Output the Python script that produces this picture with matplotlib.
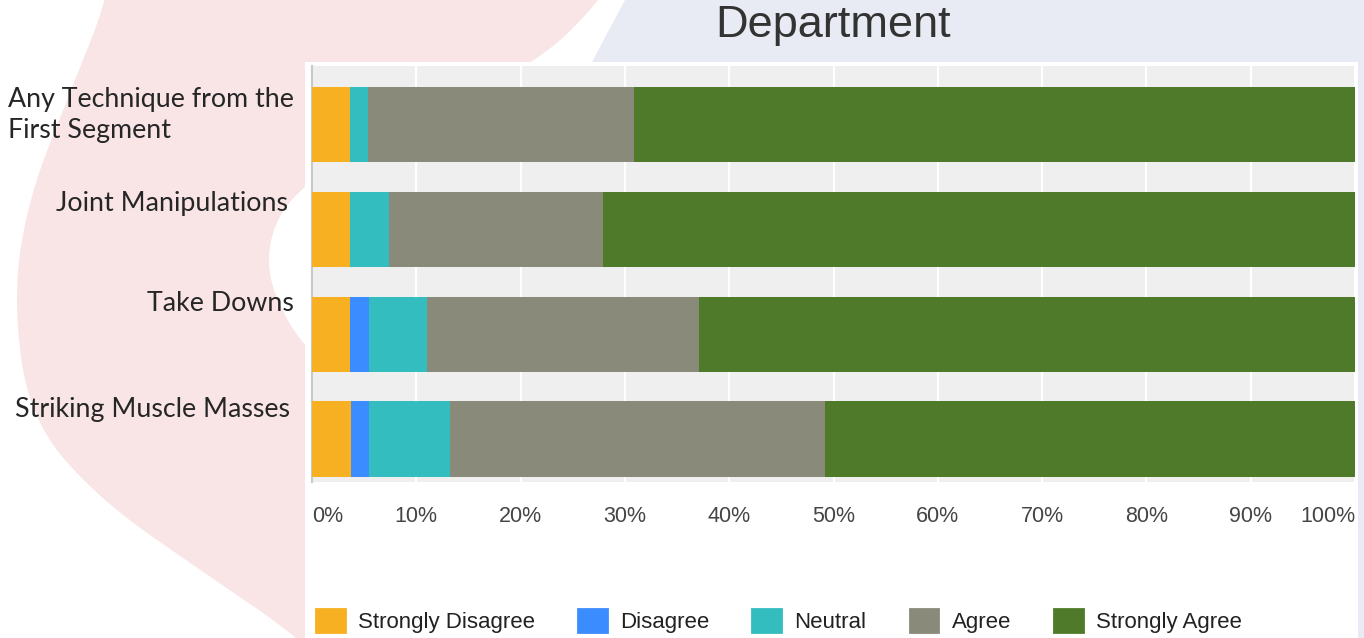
import matplotlib
matplotlib.use("Agg")
import matplotlib.pyplot as plt
import numpy as np
from matplotlib.patches import Polygon, Rectangle, Patch
from matplotlib.transforms import ScaledTranslation

# ---- data ----
categories = ["Any Technique from the\nFirst Segment", "Joint Manipulations",
              "Take Downs", "Striking Muscle Masses"]
series_names = ["Strongly Disagree", "Disagree", "Neutral", "Agree", "Strongly Agree"]
strongly_disagree = [3.6, 3.6, 3.6, 3.7]
disagree = [0.0, 0.0, 1.9, 1.8]
neutral = [1.8, 3.8, 5.5, 7.7]
agree = [25.5, 20.5, 26.1, 36.0]
strongly_agree = [69.1, 72.1, 62.9, 50.8]
x_ticks = [0, 10, 20, 30, 40, 50, 60, 70, 80, 90, 100]
x_tick_labels = ["0%", "10%", "20%", "30%", "40%", "50%", "60%", "70%", "80%", "90%", "100%"]
title = "Department"
colors = ["#f7b022", "#3a8cff", "#33bdbe", "#8a8a7a", "#4f7a29"]

W, H = 1364, 638
fig = plt.figure(figsize=(W / 100, H / 100), dpi=100)
fig.patch.set_facecolor("white")

def px(x, y):
    return x / W, 1 - y / H

def chaikin(pts, n=4):
    p = np.asarray(pts, float)
    for _ in range(n):
        q = p[:-1] * 0.75 + p[1:] * 0.25
        r = p[:-1] * 0.25 + p[1:] * 0.75
        p = np.vstack([p[:1], np.column_stack([q, r]).reshape(-1, 2), p[-1:]])
    return p

# ---- slide background decoration ----
bg = fig.add_axes([0, 0, 1, 1], zorder=-10)
bg.set_xlim(0, W); bg.set_ylim(H, 0); bg.axis("off")
pink_outline = [(110, -40), (107, 0), (67, 100), (28, 200), (13, 300), (30, 420), (100, 500),
                (200, 570), (300, 638), (360, 700), (900, 700), (900, 400), (330, 370),
                (290, 330), (262, 260), (290, 190), (400, 130),
                (540, 62), (605, -5), (620, -40)]
bg.add_patch(Polygon(chaikin(pink_outline), closed=True, facecolor="#f9e5e6", edgecolor="none"))
bg.add_patch(Polygon([(625, 0), (W, 0), (W, H), (560, H), (592, 62)], closed=True,
                     facecolor="#e8ebf4", edgecolor="none"))
bg.add_patch(Rectangle((305, 62), 1358 - 305, H - 62, facecolor="white", edgecolor="none"))

# ---- main axes ----
ax = fig.add_axes([312 / W, 1 - 482 / H, 1043 / W, (482 - 66) / H])
ax.set_facecolor("#efefef")

y = np.arange(len(categories))
series = [strongly_disagree, disagree, neutral, agree, strongly_agree]
left = np.zeros(len(categories))
for name, vals, c in zip(series_names, series, colors):
    ax.barh(y, vals, left=left, height=0.72, color=c, edgecolor="none", label=name, zorder=3)
    left = left + np.array(vals)

ax.set_xlim(0, 100)
ax.set_ylim(3.408, -0.558)
ax.set_xticks(x_ticks)
ax.set_xticklabels(x_tick_labels, fontsize=15.5, color="#444444", family="Liberation Sans")
labels = ax.get_xticklabels()
labels[0].set_ha("left")
labels[-1].set_ha("right")
ax.tick_params(axis="x", length=0, pad=17)
ax.grid(axis="x", color="white", linewidth=1.6, zorder=1)
ax.set_axisbelow(True)

ax.set_yticks(y)
ax.set_yticklabels(categories, fontsize=19.3, color="#262626", family="Lato", linespacing=1.3)
ax.tick_params(axis="y", length=0, pad=13)
offsets_px = [(0, 15), (-6, 28), (0, 33), (-4, 32)]
for lab, (dx, dy) in zip(ax.get_yticklabels(), offsets_px):
    lab.set_multialignment("left")
    lab.set_transform(lab.get_transform() + ScaledTranslation(dx / 100, dy / 100, fig.dpi_scale_trans))

for s in ["top", "right", "bottom"]:
    ax.spines[s].set_visible(False)
ax.spines["left"].set_color("#c8c8c8")
ax.spines["left"].set_linewidth(1.5)

ax.set_title(title, fontsize=32.5, color="#333333", family="Liberation Sans", pad=21)

handles = [Patch(facecolor=c, edgecolor=c, linewidth=2, joinstyle="round") for c in colors]
fig.legend(handles, series_names, loc="center left", bbox_to_anchor=px(316, 621),
           ncol=5, frameon=False, prop={"family": "Liberation Sans", "size": 16},
           labelcolor="#222222", handlelength=1.3, handleheight=1.17,
           handletextpad=0.59, columnspacing=1.94, borderpad=0, borderaxespad=0)

fig.savefig("out.png", dpi=100, facecolor=fig.get_facecolor())
